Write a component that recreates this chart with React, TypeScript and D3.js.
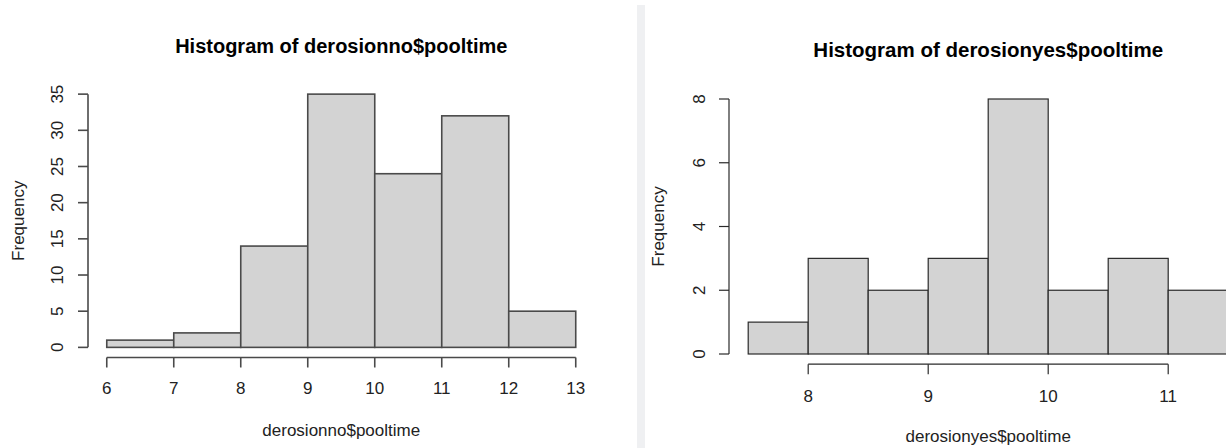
import React from 'react';
import * as d3 from 'd3';

// bin edges and counts
const noBreaks = [6, 7, 8, 9, 10, 11, 12, 13];
const noCounts = [1, 2, 14, 35, 24, 32, 5];
const noXTicks = [6, 7, 8, 9, 10, 11, 12, 13];
const noYTicks = [0, 5, 10, 15, 20, 25, 30, 35];

const yesBreaks = [7.5, 8, 8.5, 9, 9.5, 10, 10.5, 11, 11.5];
const yesCounts = [1, 3, 2, 3, 8, 2, 3, 2];
const yesXTicks = [8, 9, 10, 11];
const yesYTicks = [0, 2, 4, 6, 8];

const FONT = '"Liberation Sans", Arial, Helvetica, sans-serif';

type PanelProps = {
  title: string;
  xlab: string;
  breaks: number[];
  counts: number[];
  xTicks: number[];
  yTicks: number[];
  region: { left: number; right: number; top: number; bottom: number };
  stroke: string;
  strokeWidth: number;
  titleSize: number;
  titleY: number;
  xTickY: number;
  xlabY: number;
  yTickX: number;
  ylabX: number;
};

const Panel = (p: PanelProps) => {
  // R extends the data range by 4% on each side for the plot region
  const xMin = p.breaks[0];
  const xMax = p.breaks[p.breaks.length - 1];
  const xPad = (xMax - xMin) * 0.04;
  const yMax = d3.max(p.counts) as number;
  const yPad = yMax * 0.04;

  const x = d3.scaleLinear()
    .domain([xMin - xPad, xMax + xPad])
    .range([p.region.left, p.region.right]);
  const y = d3.scaleLinear()
    .domain([-yPad, yMax + yPad])
    .range([p.region.bottom, p.region.top]);

  const axisX = p.region.left;
  const axisY = p.region.bottom;
  const cx = (p.region.left + p.region.right) / 2;
  const cy = (p.region.top + p.region.bottom) / 2;
  const tick = 10;

  const bins = p.counts.map((c, i) => ({ x0: p.breaks[i], x1: p.breaks[i + 1], c }));

  return (
    <g fontFamily={FONT}>
      {bins.map((b, i) => (
        <rect
          key={i}
          x={x(b.x0)}
          y={y(b.c)}
          width={x(b.x1) - x(b.x0)}
          height={y(0) - y(b.c)}
          fill="#d3d3d3"
          stroke={p.stroke}
          strokeWidth={p.strokeWidth}
        />
      ))}

      {/* y axis */}
      <line x1={axisX} x2={axisX} y1={y(p.yTicks[0])} y2={y(p.yTicks[p.yTicks.length - 1])}
        stroke={p.stroke} strokeWidth={p.strokeWidth} />
      {p.yTicks.map(t => (
        <g key={t}>
          <line x1={axisX - tick} x2={axisX} y1={y(t)} y2={y(t)} stroke={p.stroke} strokeWidth={p.strokeWidth} />
          <text
            transform={`translate(${p.yTickX},${y(t)}) rotate(-90)`}
            textAnchor="middle"
            fontSize={17}
            fill="#222"
          >{t}</text>
        </g>
      ))}

      {/* x axis */}
      <line x1={x(p.xTicks[0])} x2={x(p.xTicks[p.xTicks.length - 1])} y1={axisY} y2={axisY}
        stroke={p.stroke} strokeWidth={p.strokeWidth} />
      {p.xTicks.map(t => (
        <g key={t}>
          <line x1={x(t)} x2={x(t)} y1={axisY} y2={axisY + tick} stroke={p.stroke} strokeWidth={p.strokeWidth} />
          <text x={x(t)} y={p.xTickY} textAnchor="middle" fontSize={17} fill="#222">{t}</text>
        </g>
      ))}

      <text x={cx} y={p.titleY} textAnchor="middle" fontSize={p.titleSize} fontWeight="bold" fill="#000">
        {p.title}
      </text>
      <text x={cx} y={p.xlabY} textAnchor="middle" fontSize={17} fill="#222">{p.xlab}</text>
      <text
        transform={`translate(${p.ylabX},${cy}) rotate(-90)`}
        textAnchor="middle"
        fontSize={17}
        fill="#222"
      >Frequency</text>
    </g>
  );
};

export default function App() {
  return (
    <svg
      width={1226}
      height={448}
      style={{ position: 'absolute', left: 0, top: 0, background: '#fff' }}
    >
      <rect x={0} y={0} width={1226} height={448} fill="#fff" />
      <Panel
        title="Histogram of derosionno$pooltime"
        xlab="derosionno$pooltime"
        breaks={noBreaks}
        counts={noCounts}
        xTicks={noXTicks}
        yTicks={noYTicks}
        region={{ left: 88, right: 594.5, top: 84, bottom: 357.5 }}
        stroke="#4a4a4a"
        strokeWidth={1.6}
        titleSize={20}
        titleY={53}
        xTickY={394}
        xlabY={436}
        yTickX={63}
        ylabX={24}
      />
      {/* separator strip between the two screenshots */}
      <rect x={637} y={5} width={8} height={443} fill="#eff0f2" />
      <Panel
        title="Histogram of derosionyes$pooltime"
        xlab="derosionyes$pooltime"
        breaks={yesBreaks}
        counts={yesCounts}
        xTicks={yesXTicks}
        yTicks={yesYTicks}
        region={{ left: 729, right: 1247.4, top: 88.8, bottom: 364.2 }}
        stroke="#2a2a2a"
        strokeWidth={1.2}
        titleSize={20.5}
        titleY={57}
        xTickY={402}
        xlabY={442}
        yTickX={705}
        ylabX={664}
      />
    </svg>
  );
}
